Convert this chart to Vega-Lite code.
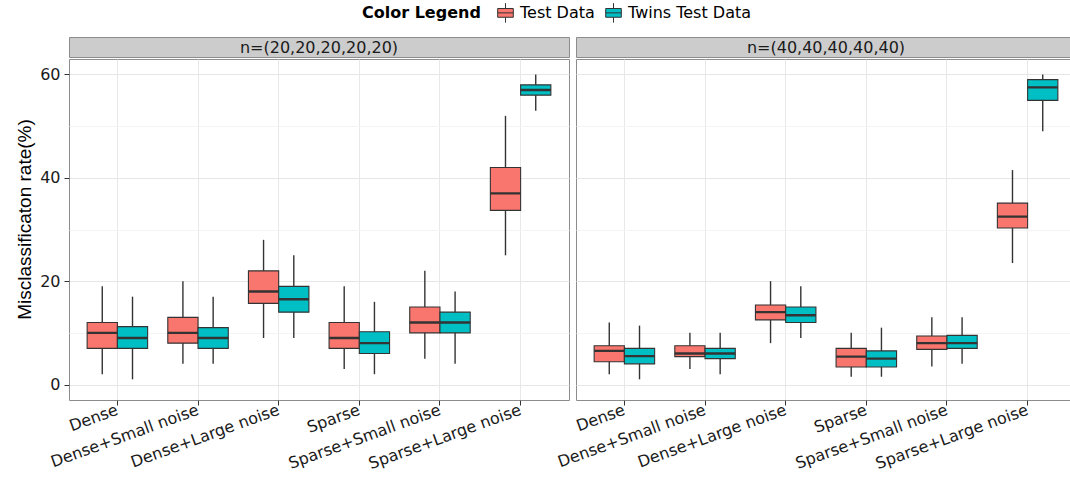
{
  "$schema": "https://vega.github.io/schema/vega-lite/v6.json",
  "padding": {"left": 15, "top": 2, "right": 0, "bottom": 0},
  "datasets": {
    "stats": [
      {"panel": "n20", "method": "Dense", "type": "Test Data", "lower": 2, "q1": 7, "median": 10, "q3": 12, "upper": 19},
      {"panel": "n20", "method": "Dense", "type": "Twins Test Data", "lower": 1, "q1": 7, "median": 9, "q3": 11.2, "upper": 17},
      {"panel": "n20", "method": "Dense+Small noise", "type": "Test Data", "lower": 4, "q1": 8, "median": 10, "q3": 13, "upper": 20},
      {"panel": "n20", "method": "Dense+Small noise", "type": "Twins Test Data", "lower": 4, "q1": 7, "median": 9, "q3": 11, "upper": 17},
      {"panel": "n20", "method": "Dense+Large noise", "type": "Test Data", "lower": 9, "q1": 15.7, "median": 18, "q3": 22, "upper": 28},
      {"panel": "n20", "method": "Dense+Large noise", "type": "Twins Test Data", "lower": 9, "q1": 14, "median": 16.5, "q3": 19, "upper": 25},
      {"panel": "n20", "method": "Sparse", "type": "Test Data", "lower": 3, "q1": 7, "median": 9, "q3": 12, "upper": 19},
      {"panel": "n20", "method": "Sparse", "type": "Twins Test Data", "lower": 2, "q1": 6, "median": 8, "q3": 10.2, "upper": 16},
      {"panel": "n20", "method": "Sparse+Small noise", "type": "Test Data", "lower": 5, "q1": 10, "median": 12, "q3": 15, "upper": 22},
      {"panel": "n20", "method": "Sparse+Small noise", "type": "Twins Test Data", "lower": 4, "q1": 10, "median": 12, "q3": 14, "upper": 18},
      {"panel": "n20", "method": "Sparse+Large noise", "type": "Test Data", "lower": 25, "q1": 33.7, "median": 37, "q3": 42, "upper": 52},
      {"panel": "n20", "method": "Sparse+Large noise", "type": "Twins Test Data", "lower": 53, "q1": 56, "median": 57, "q3": 58, "upper": 60},
      {"panel": "n40", "method": "Dense", "type": "Test Data", "lower": 2, "q1": 4.4, "median": 6.5, "q3": 7.5, "upper": 12},
      {"panel": "n40", "method": "Dense", "type": "Twins Test Data", "lower": 1, "q1": 4, "median": 5.5, "q3": 7, "upper": 11.4},
      {"panel": "n40", "method": "Dense+Small noise", "type": "Test Data", "lower": 3, "q1": 5.4, "median": 6, "q3": 7.5, "upper": 10},
      {"panel": "n40", "method": "Dense+Small noise", "type": "Twins Test Data", "lower": 2, "q1": 5, "median": 6, "q3": 7, "upper": 10},
      {"panel": "n40", "method": "Dense+Large noise", "type": "Test Data", "lower": 8, "q1": 12.5, "median": 14, "q3": 15.4, "upper": 20},
      {"panel": "n40", "method": "Dense+Large noise", "type": "Twins Test Data", "lower": 9, "q1": 12, "median": 13.4, "q3": 15, "upper": 19},
      {"panel": "n40", "method": "Sparse", "type": "Test Data", "lower": 1.5, "q1": 3.4, "median": 5.4, "q3": 7, "upper": 10},
      {"panel": "n40", "method": "Sparse", "type": "Twins Test Data", "lower": 1.5, "q1": 3.4, "median": 5, "q3": 6.5, "upper": 11},
      {"panel": "n40", "method": "Sparse+Small noise", "type": "Test Data", "lower": 3.5, "q1": 6.8, "median": 8, "q3": 9.4, "upper": 13},
      {"panel": "n40", "method": "Sparse+Small noise", "type": "Twins Test Data", "lower": 4, "q1": 7, "median": 8, "q3": 9.5, "upper": 13},
      {"panel": "n40", "method": "Sparse+Large noise", "type": "Test Data", "lower": 23.5, "q1": 30.3, "median": 32.5, "q3": 35.1, "upper": 41.5},
      {"panel": "n40", "method": "Sparse+Large noise", "type": "Twins Test Data", "lower": 49, "q1": 55, "median": 57.5, "q3": 59, "upper": 60}
    ],
    "strip20": [{"label": "n=(20,20,20,20,20)"}],
    "strip40": [{"label": "n=(40,40,40,40,40)"}]
  },
  "config": {
    "font": "DejaVu Sans",
    "view": {"stroke": "#8C8C8C", "strokeWidth": 1},
    "axis": {"domain": false, "tickColor": "#333333", "tickSize": 5, "labelColor": "#1A1A1A", "labelFontSize": 16, "labelFont": "DejaVu Sans"}
  },
  "spacing": -16,
  "resolve": {"scale": {"color": "shared", "x": "independent", "y": "independent"}, "legend": {"color": "shared"}},
  "hconcat": [
    {
      "spacing": 0,
      "resolve": {"scale": {"color": "shared", "x": "independent", "y": "independent"}},
      "vconcat": [
        {
          "width": 500, "height": 20,
          "data": {"name": "strip20"},
          "view": {"fill": "#CCCCCC", "stroke": "#8C8C8C"},
          "mark": {"type": "text", "fontSize": 16, "font": "DejaVu Sans", "color": "#1A1A1A", "baseline": "middle", "align": "center", "dy": 1},
          "encoding": {"text": {"field": "label"}}
        },
        {
          "width": 500, "height": 341,
          "data": {"name": "stats"},
          "transform": [{"filter": "datum.panel === 'n20'"}],
          "encoding": {
            "x": {"field": "method", "type": "nominal", "sort": null,
              "scale": {"domain": ["Dense", "Dense+Small noise", "Dense+Large noise", "Sparse", "Sparse+Small noise", "Sparse+Large noise"], "paddingInner": 0.25, "paddingOuter": 0.225},
              "axis": {"title": null, "labelAngle": -20, "labelAlign": "right", "labelBaseline": "middle", "labelPadding": 4, "grid": true, "gridColor": "#E8E8E8", "labelFontSize": 16}},
            "xOffset": {"field": "type", "type": "nominal", "scale": {"domain": ["Test Data", "Twins Test Data"], "paddingInner": 0, "paddingOuter": 0}}
          },
          "layer": [
            {
              "mark": {"type": "rule", "color": "#333333", "strokeWidth": 1.4},
              "encoding": {
                "y": {"field": "lower", "type": "quantitative",
                  "scale": {"domain": [-3, 63], "nice": false, "zero": false},
                  "axis": {"title": "Misclassificaton rate(%)", "titleFont": "Liberation Sans", "titleFontSize": 19, "titleFontWeight": "normal", "titleColor": "#000000", "titlePadding": 5, "titleY": 160,
                    "values": [0, 10, 20, 30, 40, 50, 60],
                    "labelExpr": "datum.value % 20 === 0 ? datum.label : ''",
                    "tickOpacity": {"condition": {"test": "datum.value % 20 === 0", "value": 1}, "value": 0},
                    "grid": true,
                    "gridColor": {"condition": {"test": "datum.value % 20 === 0", "value": "#E6E6E6"}, "value": "#F4F4F4"},
                    "labelPadding": 4}},
                "y2": {"field": "upper"}
              }
            },
            {
              "mark": {"type": "bar", "stroke": "#333333", "strokeWidth": 1.1},
              "encoding": {
                "y": {"field": "q1", "type": "quantitative"},
                "y2": {"field": "q3"},
                "color": {"field": "type", "type": "nominal",
                  "scale": {"domain": ["Test Data", "Twins Test Data"], "range": ["#F8766D", "#00BFC4"]},
                  "legend": {"orient": "none", "legendX": 293, "legendY": -35, "direction": "horizontal", "title": "Color Legend", "titleOrient": "left", "titleFont": "DejaVu Sans", "titleFontSize": 16, "titleFontWeight": "bold", "titleColor": "#000000", "titlePadding": 14, "labelFont": "DejaVu Sans", "labelFontSize": 16, "labelColor": "#000000", "labelOffset": 4, "columnPadding": 8, "symbolType": "M-0.8,-0.45H0.8V0.45H-0.8Z M-0.8,0H0.8 M0,-0.45V-1 M0,0.45V1", "symbolSize": 380, "symbolStrokeColor": "#333333", "symbolStrokeWidth": 1, "symbolOpacity": 1}
                }
              }
            },
            {
              "mark": {"type": "bar", "fill": null, "stroke": "#333333", "strokeWidth": 2.4},
              "encoding": {
                "y": {"field": "median", "type": "quantitative"},
                "y2": {"field": "median"}
              }
            }
          ]
        }
      ]
    },
    {
      "spacing": 0,
      "resolve": {"scale": {"color": "shared", "x": "independent", "y": "independent"}},
      "vconcat": [
        {
          "width": 500, "height": 20,
          "data": {"name": "strip40"},
          "view": {"fill": "#CCCCCC", "stroke": "#8C8C8C"},
          "mark": {"type": "text", "fontSize": 16, "font": "DejaVu Sans", "color": "#1A1A1A", "baseline": "middle", "align": "center", "dy": 1},
          "encoding": {"text": {"field": "label"}}
        },
        {
          "width": 500, "height": 341,
          "data": {"name": "stats"},
          "transform": [{"filter": "datum.panel === 'n40'"}],
          "encoding": {
            "x": {"field": "method", "type": "nominal", "sort": null,
              "scale": {"domain": ["Dense", "Dense+Small noise", "Dense+Large noise", "Sparse", "Sparse+Small noise", "Sparse+Large noise"], "paddingInner": 0.25, "paddingOuter": 0.225},
              "axis": {"title": null, "labelAngle": -20, "labelAlign": "right", "labelBaseline": "middle", "labelPadding": 4, "grid": true, "gridColor": "#E8E8E8", "labelFontSize": 16}},
            "xOffset": {"field": "type", "type": "nominal", "scale": {"domain": ["Test Data", "Twins Test Data"], "paddingInner": 0, "paddingOuter": 0}}
          },
          "layer": [
            {
              "mark": {"type": "rule", "color": "#333333", "strokeWidth": 1.4},
              "encoding": {
                "y": {"field": "lower", "type": "quantitative",
                  "scale": {"domain": [-3, 63], "nice": false, "zero": false},
                  "axis": {"title": null, "labels": false, "ticks": false,
                    "values": [0, 10, 20, 30, 40, 50, 60],
                    "grid": true,
                    "gridColor": {"condition": {"test": "datum.value % 20 === 0", "value": "#E6E6E6"}, "value": "#F4F4F4"}}},
                "y2": {"field": "upper"}
              }
            },
            {
              "mark": {"type": "bar", "stroke": "#333333", "strokeWidth": 1.1},
              "encoding": {
                "y": {"field": "q1", "type": "quantitative"},
                "y2": {"field": "q3"},
                "color": {"field": "type", "type": "nominal",
                  "scale": {"domain": ["Test Data", "Twins Test Data"], "range": ["#F8766D", "#00BFC4"]},
                  "legend": {"orient": "none", "legendX": 293, "legendY": -35, "direction": "horizontal", "title": "Color Legend", "titleOrient": "left", "titleFont": "DejaVu Sans", "titleFontSize": 16, "titleFontWeight": "bold", "titleColor": "#000000", "titlePadding": 14, "labelFont": "DejaVu Sans", "labelFontSize": 16, "labelColor": "#000000", "labelOffset": 4, "columnPadding": 8, "symbolType": "M-0.8,-0.45H0.8V0.45H-0.8Z M-0.8,0H0.8 M0,-0.45V-1 M0,0.45V1", "symbolSize": 380, "symbolStrokeColor": "#333333", "symbolStrokeWidth": 1, "symbolOpacity": 1}
                }
              }
            },
            {
              "mark": {"type": "bar", "fill": null, "stroke": "#333333", "strokeWidth": 2.4},
              "encoding": {
                "y": {"field": "median", "type": "quantitative"},
                "y2": {"field": "median"}
              }
            }
          ]
        }
      ]
    }
  ]
}
